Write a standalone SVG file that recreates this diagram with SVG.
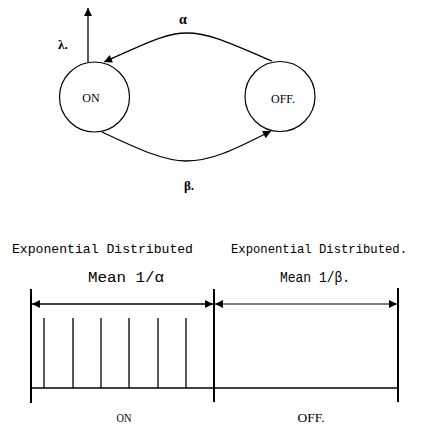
<svg xmlns="http://www.w3.org/2000/svg" width="422" height="426" viewBox="0 0 422 426">
<style>
.line{stroke:#000;stroke-width:1.3;fill:none}
.thin{stroke:#000;stroke-width:1;fill:none}
.bar{stroke:#000;stroke-width:2;fill:none}
.node{stroke:#000;stroke-width:1.2;fill:#fff}
.serif{font-family:"Liberation Serif",serif;fill:#000}
.mono{font-family:"Liberation Mono",monospace;fill:#000}
</style>
<defs>
<marker id="ah" viewBox="0 0 10 10" refX="10" refY="5" markerWidth="10" markerHeight="8" markerUnits="userSpaceOnUse" orient="auto-start-reverse">
<path d="M0,0 L10,5 L0,10 Z" fill="#000"/>
</marker>
</defs>
<rect width="422" height="426" fill="#fff"/>
<g id="connectors">
<path class="line" d="M88,62 L88,8" marker-end="url(#ah)"/>
<path class="line" d="M272,61 C232,44 210,33 187,33 C165,33 145,44 104,62" marker-end="url(#ah)"/>
<path class="line" d="M102,132 C140,150 165,161 186,161 C210,161 232,151 271,131" marker-end="url(#ah)"/>
</g>
<g id="node-on">
<circle class="node" cx="94.5" cy="97" r="35"/>
<text class="serif" x="91" y="102" font-size="12" text-anchor="middle">ON</text>
</g>
<g id="node-off">
<circle class="node" cx="280" cy="96.5" r="35"/>
<text class="serif" x="283" y="103" font-size="12" text-anchor="middle">OFF.</text>
</g>
<g id="labels">
<text class="serif" x="58" y="49" font-size="13" font-weight="bold">λ.</text>
<text class="serif" x="183" y="24" font-size="14" font-weight="bold" text-anchor="middle">α</text>
<text class="serif" x="189" y="190" font-size="13" font-weight="bold" text-anchor="middle">β.</text>
</g>
<g id="timeline">
<line class="bar" x1="31" y1="289" x2="31" y2="403"/>
<line class="bar" x1="214" y1="289" x2="214" y2="402"/>
<line class="bar" x1="398" y1="288" x2="398" y2="402"/>
<line class="line" x1="32" y1="304" x2="213" y2="304" marker-start="url(#ah)" marker-end="url(#ah)"/>
<line class="thin" x1="215" y1="304" x2="397" y2="304" marker-start="url(#ah)" marker-end="url(#ah)"/>
<line class="line" x1="44" y1="318" x2="44" y2="388"/>
<line class="line" x1="73" y1="318" x2="73" y2="388"/>
<line class="line" x1="101" y1="318" x2="101" y2="388"/>
<line class="line" x1="129" y1="318" x2="129" y2="388"/>
<line class="line" x1="158" y1="318" x2="158" y2="388"/>
<line class="line" x1="186" y1="318" x2="186" y2="388"/>
<line class="line" x1="31" y1="388" x2="398" y2="388"/>
<text class="mono" x="12" y="253" font-size="13" textLength="181" lengthAdjust="spacingAndGlyphs">Exponential Distributed</text>
<text class="mono" x="231" y="253" font-size="12.2" textLength="176" lengthAdjust="spacingAndGlyphs">Exponential Distributed.</text>
<text class="mono" x="88" y="282" font-size="14" textLength="76" lengthAdjust="spacingAndGlyphs">Mean 1/α</text>
<text class="mono" x="280" y="282" font-size="14" textLength="70" lengthAdjust="spacingAndGlyphs">Mean 1/β.</text>
<text class="serif" x="124" y="422" font-size="13" text-anchor="middle" textLength="15" lengthAdjust="spacingAndGlyphs">ON</text>
<text class="serif" x="311" y="422" font-size="13" text-anchor="middle" textLength="27" lengthAdjust="spacingAndGlyphs">OFF.</text>
</g>
</svg>
